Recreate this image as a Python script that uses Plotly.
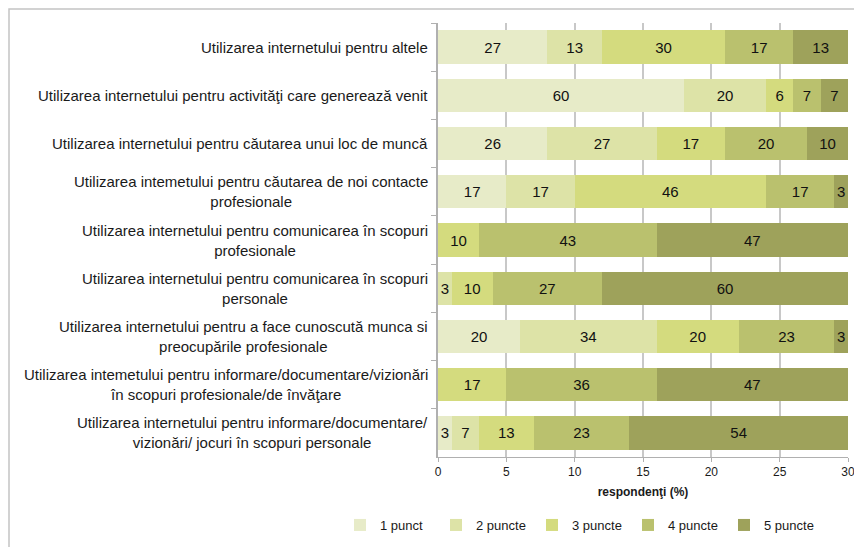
import plotly.graph_objects as go

categories = [
    "Utilizarea internetului pentru altele",
    "Utilizarea internetului pentru activităţi care generează venit",
    "Utilizarea internetului pentru căutarea unui loc de muncă",
    "Utilizarea intemetului pentru căutarea de noi contacte<br>profesionale",
    "Utilizarea internetului pentru comunicarea în scopuri<br>profesionale",
    "Utilizarea internetului pentru comunicarea în scopuri<br>personale",
    "Utilizarea internetului pentru a face cunoscută munca si<br>preocupările profesionale",
    "Utilizarea intemetului pentru informare/documentare/vizionări<br>în scopuri profesionale/de învăţare",
    "Utilizarea internetului pentru informare/documentare/<br>vizionări/ jocuri în scopuri personale",
]

series_names = ["1 punct", "2 puncte", "3 puncte", "4 puncte", "5 puncte"]

# bar lengths (respondents, axis 0-30)
p1_values = [8, 18, 8, 5, 0, 0, 6, 0, 1]
p2_values = [4, 6, 8, 5, 0, 1, 10, 0, 2]
p3_values = [9, 2, 5, 14, 3, 3, 6, 5, 4]
p4_values = [5, 2, 6, 5, 13, 8, 7, 11, 7]
p5_values = [4, 2, 3, 1, 14, 18, 1, 14, 16]

# percentage labels printed inside the bars
p1_labels = ["27", "60", "26", "17", "", "", "20", "", "3"]
p2_labels = ["13", "20", "27", "17", "", "3", "34", "", "7"]
p3_labels = ["30", "6", "17", "46", "10", "10", "20", "17", "13"]
p4_labels = ["17", "7", "20", "17", "43", "27", "23", "36", "23"]
p5_labels = ["13", "7", "10", "3", "47", "60", "3", "47", "54"]

x_ticks = [0, 5, 10, 15, 20, 25, 30]

colors = ["#e7ebc8", "#dde3a7", "#d4db7e", "#bac16e", "#9ea25b"]

values = [p1_values, p2_values, p3_values, p4_values, p5_values]
labels = [p1_labels, p2_labels, p3_labels, p4_labels, p5_labels]

FONT = "Arial, Liberation Sans, sans-serif"

fig = go.Figure()
for name, vals, labs, col in zip(series_names, values, labels, colors):
    fig.add_trace(go.Bar(
        y=categories, x=vals, name=name, orientation="h",
        marker=dict(color=col, line=dict(width=0)),
        text=labs, textposition="inside", insidetextanchor="middle",
        textangle=0, constraintext="none",
        textfont=dict(family=FONT, size=15, color="#111111"),
        hoverinfo="x+name",
    ))

for cat in categories:
    fig.add_annotation(
        x=0, xref="paper", y=cat, yref="y", xanchor="right", yanchor="middle",
        xshift=-8, text=cat, showarrow=False, align="center",
        font=dict(family=FONT, size=15, color="#1a1a1a"),
    )

# the page body adds an 8px offset, so the figure is drawn 8px smaller
W, H = 854, 539
L, R, T, B = 430, 14, 15, 90
pw, ph = W - L - R, H - T - B

# outer frame (top and left edges visible)
fig.add_shape(type="rect", xref="paper", yref="paper",
              x0=(1 - L) / pw, x1=(880 - L) / pw,
              y0=(H - B - 570) / ph, y1=(H - B - 1) / ph,
              line=dict(color="#c4c4c4", width=1.5), layer="below")

fig.update_layout(
    width=W, height=H, barmode="stack", bargap=0.31,
    margin=dict(l=L, r=R, t=T, b=B, autoexpand=False),
    paper_bgcolor="white", plot_bgcolor="white",
    font=dict(family=FONT, size=12, color="#1a1a1a"),
    showlegend=True,
    legend=dict(orientation="h",
                x=(332 - L) / pw, xanchor="left",
                y=(H - B - 517) / ph, yanchor="middle",
                bgcolor="rgba(0,0,0,0)",
                font=dict(family=FONT, size=13, color="#1a1a1a"),
                traceorder="normal", entrywidth=51, entrywidthmode="pixels",
                itemwidth=30),
    xaxis=dict(range=[0, 30], tickvals=x_ticks, ticktext=[str(v) for v in x_ticks],
               showgrid=True, gridcolor="#c8c8c8", gridwidth=1.5,
               showline=True, linecolor="#b0b0b0", linewidth=1,
               ticks="outside", ticklen=4, tickcolor="#b0b0b0",
               tickfont=dict(family=FONT, size=12, color="#1a1a1a"),
               title=dict(text="<b>respondenţi (%)</b>", standoff=9,
                          font=dict(family=FONT, size=12, color="#1a1a1a")),
               zeroline=False, fixedrange=True),
    yaxis=dict(categoryorder="array", categoryarray=categories, autorange="reversed",
               showticklabels=False, showline=True, linecolor="#b0b0b0", linewidth=1.5,
               ticks="outside", tickson="boundaries", ticklen=5, tickcolor="#b0b0b0",
               showgrid=False, fixedrange=True),
)

fig.write_html("out.html")
